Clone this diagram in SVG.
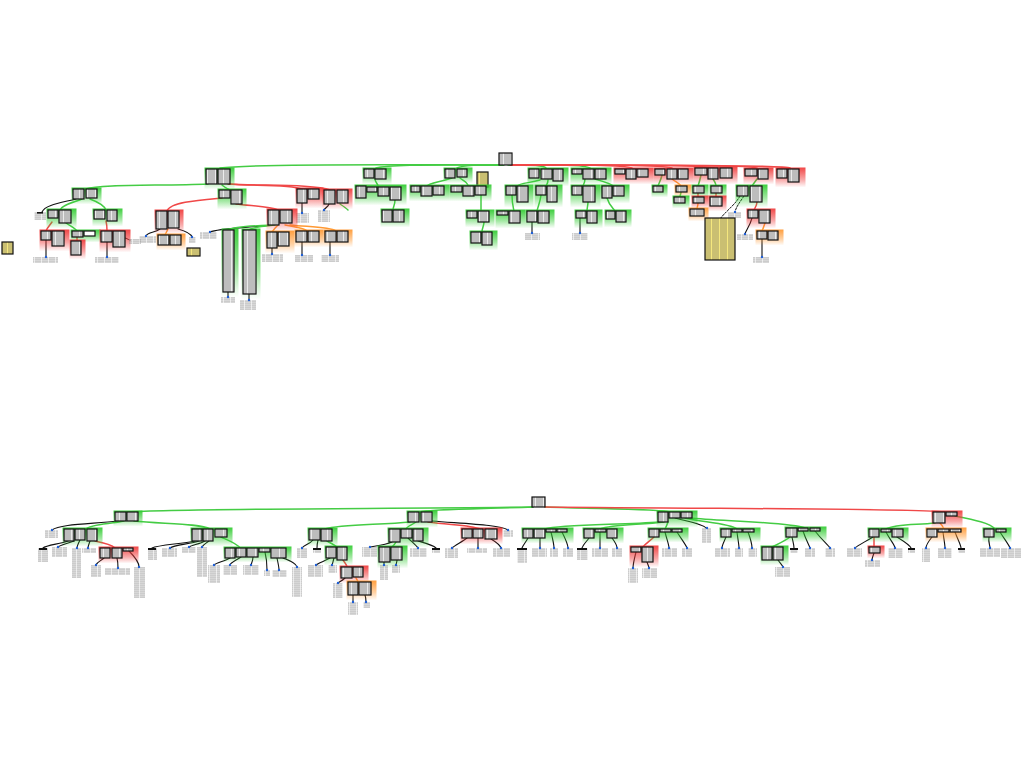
<svg xmlns="http://www.w3.org/2000/svg" width="1024" height="768" viewBox="0 0 1024 768">
<defs>
<pattern id="tx" width="8" height="2" patternUnits="userSpaceOnUse"><rect width="8" height="2" fill="#fff"/><rect y="0.5" width="7.3" height="1" fill="#7c7c7c"/></pattern>
<pattern id="tl" width="7" height="2" patternUnits="userSpaceOnUse"><rect y="0.6" width="6.4" height="0.9" fill="#9a9a9a"/></pattern>
<pattern id="ty" width="8" height="2" patternUnits="userSpaceOnUse"><rect width="8" height="2" fill="#f5e77e"/><rect y="0.6" width="7" height="0.8" fill="#8a8460"/></pattern>
<linearGradient id="gG" x1="0" y1="0" x2="0" y2="1"><stop offset="0" stop-color="#33cc33" stop-opacity="0.95"/><stop offset="0.6" stop-color="#33cc33" stop-opacity="0.45"/><stop offset="1" stop-color="#33cc33" stop-opacity="0"/></linearGradient>
<linearGradient id="gR" x1="0" y1="0" x2="0" y2="1"><stop offset="0" stop-color="#f03c3c" stop-opacity="0.95"/><stop offset="0.6" stop-color="#f03c3c" stop-opacity="0.45"/><stop offset="1" stop-color="#f03c3c" stop-opacity="0"/></linearGradient>
<linearGradient id="gO" x1="0" y1="0" x2="0" y2="1"><stop offset="0" stop-color="#ff9933" stop-opacity="0.95"/><stop offset="0.6" stop-color="#ff9933" stop-opacity="0.45"/><stop offset="1" stop-color="#ff9933" stop-opacity="0"/></linearGradient>
</defs>
<style>
.b{fill:url(#tx);stroke:#111;stroke-width:1.2}
.w{fill:#fff;stroke:#111;stroke-width:1.2}
.y{fill:url(#ty);stroke:#111;stroke-width:1.2}
.l{fill:url(#tl)}
.k{fill:#111}
.d{fill:#1f5fd6}
.G{fill:url(#gG)}
.R{fill:url(#gR)}
.O{fill:url(#gO)}
#connectors path{fill:none;stroke-linecap:round}
.cg{stroke:#44cc44;stroke-width:1.5}
.cr{stroke:#f04848;stroke-width:1.5}
.co{stroke:#ff9933;stroke-width:1.5}
.ck{stroke:#111;stroke-width:1.1}
.cd{stroke:#111;stroke-width:1;stroke-dasharray:2 1.5}
</style>
<rect width="1024" height="768" fill="#fff"/>
<g id="connectors">
<path class="cg" d="M503,165 C420,165 260,163 220,168"/>
<path class="cg" d="M503,165 C440,165 390,164 376,168"/>
<path class="cg" d="M504,165 C480,165 462,165 457,168"/>
<path class="cg" d="M508,165 C530,165 545,165 546,168"/>
<path class="cg" d="M510,165 C560,165 585,165 590,168"/>
<path class="cr" d="M511,165 C580,165 625,165 632,168"/>
<path class="cr" d="M511,165 C600,165 665,165 672,168"/>
<path class="cr" d="M511,165 C620,165 705,165 714,168"/>
<path class="cr" d="M511,165 C640,165 750,165 757,168"/>
<path class="cr" d="M511,165 C660,165 785,165 790,168"/>
<path class="cg" d="M208,184 C160,186 100,184 86,189"/>
<path class="cg" d="M222,185 C224,187 226,188 230,190"/>
<path class="cr" d="M228,184 C250,186 290,184 302,189"/>
<path class="cr" d="M229,184 C260,186 315,184 330,190"/>
<path class="ck" d="M302,203 V213"/>
<path class="ck" d="M329,204 C328,207 325,208 324,210"/>
<path class="cg" d="M340,204 C343,206 346,208 348,210"/>
<path class="cr" d="M222,198 C200,200 170,202 167,211"/>
<path class="cr" d="M236,204 C250,206 270,206 278,210"/>
<path class="ck" d="M160,229 C155,233 148,232 146,236"/>
<path class="co" d="M168,229 C167,231 166,233 165,235"/>
<path class="ck" d="M178,229 C185,231 191,233 192,237"/>
<path class="ck" d="M270,225 C250,228 220,228 210,232"/>
<path class="cg" d="M272,225 C255,226 235,226 228,230"/>
<path class="cg" d="M275,225 C265,226 252,227 249,230"/>
<path class="co" d="M278,225 C276,227 274,229 272,232"/>
<path class="co" d="M285,225 C295,227 305,228 307,231"/>
<path class="co" d="M290,225 C310,227 330,227 336,231"/>
<path class="ck" d="M228,292 V297"/>
<path class="ck" d="M249,294 V300"/>
<path class="ck" d="M272,248 V254"/>
<path class="ck" d="M302,242 V255"/>
<path class="ck" d="M330,242 V255"/>
<path class="ck" d="M76,199 C60,203 45,205 42,212"/>
<path class="cg" d="M82,199 C72,203 62,205 60,210"/>
<path class="cg" d="M90,199 C98,202 104,205 106,210"/>
<path class="cr" d="M52,222 C50,225 47,228 46,231"/>
<path class="cg" d="M66,223 C70,226 75,228 77,231"/>
<path class="cr" d="M77,237 V241"/>
<path class="cr" d="M106,221 C107,225 107,228 107,231"/>
<path class="ck" d="M46,240 V257"/>
<path class="ck" d="M107,242 V257"/>
<path class="ck" d="M125,238 C128,239 129,240 130,240"/>
<path class="cg" d="M375,179 C375,182 378,184 378,186"/>
<path class="cg" d="M395,200 C395,205 393,207 393,210"/>
<path class="cg" d="M452,178 C440,182 428,183 427,186"/>
<path class="cg" d="M460,178 C465,182 468,183 468,186"/>
<path class="cg" d="M481,195 V211"/>
<path class="cg" d="M484,222 C484,226 482,228 482,232"/>
<path class="cg" d="M540,180 C530,183 520,183 517,186"/>
<path class="cg" d="M548,180 C548,183 547,184 546,186"/>
<path class="cg" d="M512,195 C512,203 513,206 514,211"/>
<path class="cg" d="M541,195 C540,203 538,206 537,211"/>
<path class="ck" d="M532,222 V233"/>
<path class="cg" d="M585,179 C585,182 584,184 583,186"/>
<path class="cg" d="M595,179 C605,182 612,184 613,186"/>
<path class="cg" d="M588,202 C588,205 587,208 587,211"/>
<path class="cg" d="M607,198 C609,205 613,208 615,211"/>
<path class="ck" d="M580,218 V233"/>
<path class="cg" d="M662,175 C661,180 659,183 658,186"/>
<path class="co" d="M672,179 C676,182 680,184 681,186"/>
<path class="cg" d="M681,192 C681,194 680,195 680,197"/>
<path class="cg" d="M701,175 C700,180 699,183 698,186"/>
<path class="cg" d="M713,179 C715,182 716,184 716,186"/>
<path class="cr" d="M698,193 V197"/>
<path class="cr" d="M716,193 V197"/>
<path class="co" d="M698,203 C698,206 697,207 697,209"/>
<path class="cg" d="M757,179 C755,182 753,184 752,186"/>
<path class="cd" d="M740,196 C735,205 725,212 720,219"/>
<path class="cd" d="M744,196 C740,202 736,207 735,212"/>
<path class="cr" d="M757,202 C757,205 755,208 754,210"/>
<path class="ck" d="M752,218 C750,226 746,230 745,234"/>
<path class="co" d="M765,223 C764,226 763,229 762,231"/>
<path class="ck" d="M762,239 V257"/>
<path class="cg" d="M533,507 C420,509 180,508 128,512"/>
<path class="cg" d="M533,507 C480,509 430,509 420,512"/>
<path class="cg" d="M545,507 C600,509 660,509 670,512"/>
<path class="cr" d="M545,507 C700,509 900,508 945,512"/>
<path class="ck" d="M118,521 C90,524 60,524 52,530"/>
<path class="cg" d="M124,521 C110,524 90,524 86,529"/>
<path class="cg" d="M134,521 C160,524 200,523 210,529"/>
<path class="ck" d="M68,541 C60,544 46,545 43,548"/>
<path class="ck" d="M74,541 C66,544 60,545 58,547"/>
<path class="ck" d="M80,540 C78,544 77,546 77,548"/>
<path class="ck" d="M90,541 C89,544 88,546 88,548"/>
<path class="cr" d="M95,541 C105,543 112,545 115,548"/>
<path class="ck" d="M104,558 C101,561 97,562 96,565"/>
<path class="ck" d="M117,558 C118,562 118,565 118,568"/>
<path class="ck" d="M129,551 C134,556 139,562 139,567"/>
<path class="ck" d="M195,541 C180,544 158,545 152,548"/>
<path class="ck" d="M199,541 C190,544 174,545 170,548"/>
<path class="ck" d="M205,541 C200,544 192,545 189,547"/>
<path class="ck" d="M209,541 C205,544 203,545 202,547"/>
<path class="cg" d="M221,537 C230,541 238,544 240,548"/>
<path class="ck" d="M230,558 C225,561 216,563 214,565"/>
<path class="ck" d="M241,557 C235,561 230,563 230,565"/>
<path class="ck" d="M253,557 C253,560 252,562 251,565"/>
<path class="ck" d="M265,552 C267,560 267,566 267,570"/>
<path class="ck" d="M277,558 C278,563 279,567 279,570"/>
<path class="ck" d="M283,558 C290,561 296,563 297,567"/>
<path class="cg" d="M410,522 C380,525 340,524 325,529"/>
<path class="cg" d="M416,522 C412,525 407,526 406,529"/>
<path class="cr" d="M428,522 C450,525 472,525 480,529"/>
<path class="ck" d="M432,521 C470,524 500,525 508,530"/>
<path class="ck" d="M313,540 C310,544 304,545 302,548"/>
<path class="ck" d="M318,540 C317,544 317,546 317,548"/>
<path class="cg" d="M327,541 C332,544 335,545 337,547"/>
<path class="ck" d="M330,558 C325,561 318,563 316,565"/>
<path class="ck" d="M334,558 C333,561 333,563 332,565"/>
<path class="cr" d="M343,560 C345,563 347,565 347,567"/>
<path class="ck" d="M345,578 C342,581 339,582 338,583"/>
<path class="co" d="M356,578 C357,580 358,581 358,582"/>
<path class="ck" d="M353,595 V602"/>
<path class="ck" d="M365,595 C366,598 366,600 366,602"/>
<path class="ck" d="M392,542 C385,545 375,546 370,547"/>
<path class="cg" d="M396,542 C395,544 393,546 392,547"/>
<path class="ck" d="M408,538 C412,542 416,545 418,548"/>
<path class="ck" d="M418,541 C425,543 433,545 436,548"/>
<path class="ck" d="M384,562 V565"/>
<path class="ck" d="M397,560 C397,562 396,564 396,565"/>
<path class="ck" d="M467,538 C462,542 455,545 452,548"/>
<path class="ck" d="M478,538 V548"/>
<path class="ck" d="M491,539 C496,542 500,545 501,548"/>
<path class="cg" d="M660,522 C620,525 560,524 545,529"/>
<path class="cg" d="M664,522 C640,525 612,524 600,529"/>
<path class="cg" d="M668,522 C667,525 666,527 665,529"/>
<path class="ck" d="M675,518 C690,522 703,524 706,528"/>
<path class="cg" d="M685,518 C700,522 730,523 737,529"/>
<path class="cg" d="M690,518 C720,521 790,522 805,528"/>
<path class="ck" d="M528,538 C526,542 523,545 522,548"/>
<path class="ck" d="M540,538 V548"/>
<path class="ck" d="M551,532 C553,540 554,545 554,548"/>
<path class="ck" d="M562,532 C566,540 568,545 568,548"/>
<path class="ck" d="M589,538 C586,542 583,545 582,548"/>
<path class="ck" d="M600,532 V548"/>
<path class="ck" d="M612,538 C615,542 617,545 617,548"/>
<path class="cr" d="M654,537 C650,541 645,544 643,547"/>
<path class="ck" d="M665,532 C667,540 669,545 669,548"/>
<path class="ck" d="M677,532 C682,540 686,545 687,548"/>
<path class="ck" d="M636,552 C634,560 633,565 633,568"/>
<path class="ck" d="M647,562 C648,565 649,567 649,568"/>
<path class="ck" d="M726,537 C724,542 722,545 722,548"/>
<path class="ck" d="M737,532 C738,540 739,545 739,548"/>
<path class="ck" d="M748,532 C751,540 752,545 752,548"/>
<path class="cg" d="M790,537 C785,541 778,544 772,547"/>
<path class="ck" d="M778,560 C780,563 782,565 783,567"/>
<path class="ck" d="M792,537 C793,542 794,545 794,548"/>
<path class="ck" d="M803,531 C806,540 809,545 810,548"/>
<path class="ck" d="M815,531 C822,540 828,545 830,548"/>
<path class="cg" d="M935,523 C915,525 895,524 886,529"/>
<path class="co" d="M940,523 C942,525 943,527 944,529"/>
<path class="cg" d="M955,516 C975,520 990,523 995,529"/>
<path class="ck" d="M873,537 C865,542 858,545 855,548"/>
<path class="cr" d="M874,537 V547"/>
<path class="ck" d="M874,553 C873,556 872,558 872,560"/>
<path class="ck" d="M886,532 C890,540 895,545 895,548"/>
<path class="ck" d="M897,537 C905,542 910,545 911,548"/>
<path class="ck" d="M932,537 C928,542 926,545 926,548"/>
<path class="ck" d="M943,532 C944,540 945,545 945,548"/>
<path class="ck" d="M955,532 C958,540 961,545 961,548"/>
<path class="ck" d="M989,537 C988,542 990,545 990,548"/>
<path class="ck" d="M1000,532 C1005,540 1009,545 1010,548"/>
</g>
<!-- TOP TREE -->
<g id="t-root"><rect class="b" x="499" y="153" width="13" height="12"/></g>
<g id="t-g1"><rect class="G" x="204.5" y="167.5" width="30" height="22"/><rect class="b" x="206" y="169" width="11" height="15"/><rect class="b" x="218" y="169" width="12" height="15"/></g>
<g id="t-g1a"><rect class="G" x="71.5" y="187.5" width="30" height="17"/><rect class="b" x="73" y="189" width="11" height="10"/><rect class="b" x="86" y="189" width="11" height="9"/></g>
<g id="t-g1b"><rect class="G" x="217.5" y="188.5" width="29" height="21"/><rect class="b" x="219" y="190" width="11" height="8"/><rect class="b" x="231" y="190" width="11" height="14"/></g>
<g id="t-g1c"><rect class="R" x="295.5" y="187.5" width="28" height="21"/><rect class="b" x="297" y="189" width="10" height="14"/><rect class="b" x="308" y="189" width="11" height="10"/></g>
<g id="t-g1c-l"><rect class="l" x="296" y="213" width="13" height="10"/><circle class="d" cx="302" cy="213" r="1.2"/></g>
<g id="t-g1d"><rect class="R" x="322.5" y="188.5" width="30" height="21"/><rect class="b" x="324" y="190" width="11" height="14"/><rect class="b" x="337" y="190" width="11" height="13"/></g>
<g id="t-g1d-l"><rect class="l" x="318" y="210" width="12" height="12"/><circle class="d" cx="324" cy="210" r="1.2"/></g>
<g id="t-g1bl"><rect class="R" x="154.5" y="209.5" width="29" height="25"/><rect class="b" x="156" y="211" width="11" height="18"/><rect class="b" x="168" y="211" width="11" height="17"/></g>
<g id="t-l1"><rect class="l" x="139" y="236" width="17" height="7"/><circle class="d" cx="146" cy="236" r="1.2"/></g>
<g id="t-o1"><rect class="O" x="156.5" y="233.5" width="29" height="17"/><rect class="b" x="158" y="235" width="11" height="10"/><rect class="b" x="170" y="235" width="11" height="10"/></g>
<g id="t-sn"><rect class="l" x="189" y="237" width="7" height="6"/><circle class="d" cx="192" cy="237" r="1.2"/></g>
<g id="t-y1"><rect class="y" x="187" y="248" width="13" height="8"/></g>
<g id="t-g1br"><rect class="R" x="266.5" y="208.5" width="31" height="23"/><rect class="b" x="268" y="210" width="11" height="15"/><rect class="b" x="280" y="210" width="12" height="13"/></g>
<g id="t-l2"><rect class="l" x="200" y="232" width="17" height="7"/><circle class="d" cx="210" cy="232" r="1.2"/></g>
<g id="t-ta"><rect class="G" x="221.5" y="228.5" width="17" height="69"/><rect class="b" x="223" y="230" width="11" height="62"/></g>
<g id="t-tb"><rect class="G" x="241.5" y="228.5" width="19" height="71"/><rect class="b" x="243" y="230" width="13" height="64"/></g>
<g id="t-ta-l"><rect class="l" x="221" y="297" width="14" height="6"/><circle class="d" cx="228" cy="297" r="1.2"/></g>
<g id="t-tb-l"><rect class="l" x="240" y="300" width="16" height="10"/><circle class="d" cx="249" cy="300" r="1.2"/></g>
<g id="t-oc"><rect class="O" x="265.5" y="230.5" width="29" height="23"/><rect class="b" x="267" y="232" width="10" height="16"/><rect class="b" x="278" y="232" width="11" height="14"/></g>
<g id="t-oc-l"><rect class="l" x="262" y="254" width="21" height="8"/><circle class="d" cx="272" cy="254" r="1.2"/></g>
<g id="t-od"><rect class="O" x="294.5" y="229.5" width="29" height="18"/><rect class="b" x="296" y="231" width="11" height="11"/><rect class="b" x="308" y="231" width="11" height="11"/></g>
<g id="t-od-l"><rect class="l" x="295" y="255" width="18" height="7"/><circle class="d" cx="302" cy="255" r="1.2"/></g>
<g id="t-oe"><rect class="O" x="323.5" y="229.5" width="29" height="18"/><rect class="b" x="325" y="231" width="11" height="11"/><rect class="b" x="337" y="231" width="11" height="11"/></g>
<g id="t-oe-l"><rect class="l" x="321" y="255" width="18" height="7"/><circle class="d" cx="330" cy="255" r="1.2"/></g>
<g id="t-la"><rect class="l" x="34" y="212" width="12" height="8"/><rect class="k" x="37" y="212" width="6" height="1.6"/></g>
<g id="t-ga1"><rect class="G" x="46.5" y="208.5" width="30" height="20"/><rect class="b" x="48" y="210" width="10" height="8"/><rect class="b" x="59" y="210" width="12" height="13"/></g>
<g id="t-ga2"><rect class="G" x="92.5" y="208.5" width="30" height="18"/><rect class="b" x="94" y="210" width="11" height="9"/><rect class="b" x="107" y="210" width="10" height="11"/></g>
<g id="t-rg1"><rect class="R" x="39.5" y="229.5" width="30" height="22"/><rect class="b" x="41" y="231" width="10" height="9"/><rect class="b" x="52" y="231" width="12" height="15"/></g>
<g id="t-gg1"><rect class="G" x="70.5" y="229.5" width="30" height="13"/><rect class="b" x="72" y="231" width="11" height="6"/><rect class="w" x="84" y="231" width="11" height="5"/></g>
<g id="t-rg2"><rect class="R" x="69.5" y="239.5" width="16" height="20"/><rect class="b" x="71" y="241" width="10" height="14"/></g>
<g id="t-rg3"><rect class="R" x="99.5" y="229.5" width="31" height="23"/><rect class="b" x="101" y="231" width="11" height="11"/><rect class="b" x="113" y="231" width="12" height="16"/></g>
<g id="t-lb1"><rect class="l" x="33" y="257" width="25" height="6"/><circle class="d" cx="46" cy="257" r="1.2"/></g>
<g id="t-lb2"><rect class="l" x="95" y="257" width="24" height="6"/><circle class="d" cx="107" cy="257" r="1.2"/></g>
<g id="t-lb3"><rect class="l" x="129" y="239" width="12" height="5"/></g>
<g id="t-yleft"><rect class="y" x="2" y="242" width="11" height="12"/></g>
<g id="t-g2"><rect class="G" x="362.5" y="167.5" width="29" height="17"/><rect class="b" x="364" y="169" width="10" height="9"/><rect class="b" x="375" y="169" width="11" height="10"/></g>
<g id="t-g2a"><rect class="G" x="354.5" y="184.5" width="52" height="21"/><rect class="b" x="356" y="186" width="10" height="12"/><rect class="b" x="367" y="187" width="10" height="5"/><rect class="b" x="378" y="187" width="11" height="9"/><rect class="b" x="390" y="187" width="11" height="13"/></g>
<g id="t-g2b"><rect class="G" x="380.5" y="208.5" width="29" height="19"/><rect class="b" x="382" y="210" width="10" height="12"/><rect class="b" x="393" y="210" width="11" height="12"/></g>
<g id="t-g3"><rect class="G" x="443.5" y="167.5" width="29" height="16"/><rect class="b" x="445" y="169" width="10" height="9"/><rect class="b" x="457" y="169" width="10" height="8"/></g>
<g id="t-y2"><rect class="y" x="477" y="172" width="11" height="15"/></g>
<g id="t-g3a"><rect class="G" x="409.5" y="184.5" width="40" height="17"/><rect class="b" x="411" y="186" width="9" height="6"/><rect class="b" x="421" y="186" width="11" height="10"/><rect class="b" x="433" y="186" width="11" height="9"/></g>
<g id="t-g3b"><rect class="G" x="449.5" y="184.5" width="42" height="17"/><rect class="b" x="451" y="186" width="11" height="6"/><rect class="b" x="463" y="186" width="11" height="10"/><rect class="b" x="475" y="186" width="11" height="9"/></g>
<g id="t-g3c"><rect class="G" x="465.5" y="209.5" width="29" height="18"/><rect class="b" x="467" y="211" width="10" height="7"/><rect class="b" x="478" y="211" width="11" height="11"/></g>
<g id="t-g3d"><rect class="G" x="469.5" y="230.5" width="28" height="20"/><rect class="b" x="471" y="232" width="10" height="11"/><rect class="b" x="482" y="232" width="10" height="13"/></g>
<g id="t-g4"><rect class="G" x="527.5" y="167.5" width="41" height="19"/><rect class="b" x="529" y="169" width="10" height="9"/><rect class="b" x="541" y="169" width="11" height="10"/><rect class="b" x="553" y="169" width="10" height="12"/></g>
<g id="t-g4a"><rect class="G" x="504.5" y="184.5" width="29" height="23"/><rect class="b" x="506" y="186" width="10" height="9"/><rect class="b" x="517" y="186" width="11" height="16"/></g>
<g id="t-g4b"><rect class="G" x="534.5" y="184.5" width="28" height="23"/><rect class="b" x="536" y="186" width="10" height="9"/><rect class="b" x="547" y="186" width="10" height="16"/></g>
<g id="t-g4c"><rect class="G" x="495.5" y="209.5" width="30" height="19"/><rect class="b" x="497" y="211" width="11" height="4"/><rect class="b" x="509" y="211" width="11" height="12"/></g>
<g id="t-g4d"><rect class="G" x="525.5" y="209.5" width="29" height="19"/><rect class="b" x="527" y="211" width="10" height="11"/><rect class="b" x="538" y="211" width="11" height="12"/></g>
<g id="t-g4d-l"><rect class="l" x="525" y="233" width="15" height="7"/><circle class="d" cx="532" cy="233" r="1.2"/></g>
<g id="t-g5"><rect class="G" x="570.5" y="167.5" width="41" height="17"/><rect class="b" x="572" y="169" width="10" height="5"/><rect class="b" x="583" y="169" width="11" height="10"/><rect class="b" x="595" y="169" width="11" height="10"/></g>
<g id="t-g5a"><rect class="G" x="570.5" y="184.5" width="30" height="23"/><rect class="b" x="572" y="186" width="10" height="9"/><rect class="b" x="583" y="186" width="12" height="16"/></g>
<g id="t-g5b"><rect class="G" x="600.5" y="184.5" width="29" height="19"/><rect class="b" x="602" y="186" width="10" height="12"/><rect class="b" x="613" y="186" width="11" height="10"/></g>
<g id="t-g5c"><rect class="G" x="574.5" y="209.5" width="28" height="19"/><rect class="b" x="576" y="211" width="10" height="7"/><rect class="b" x="587" y="211" width="10" height="12"/></g>
<g id="t-g5d"><rect class="G" x="604.5" y="209.5" width="27" height="18"/><rect class="b" x="606" y="211" width="9" height="8"/><rect class="b" x="616" y="211" width="10" height="11"/></g>
<g id="t-g5c-l"><rect class="l" x="572" y="233" width="16" height="7"/><circle class="d" cx="580" cy="233" r="1.2"/></g>
<g id="t-g6"><rect class="R" x="613.5" y="167.5" width="40" height="17"/><rect class="b" x="615" y="169" width="10" height="5"/><rect class="b" x="626" y="169" width="10" height="10"/><rect class="b" x="637" y="169" width="11" height="8"/></g>
<g id="t-g7"><rect class="R" x="653.5" y="167.5" width="40" height="17"/><rect class="b" x="655" y="169" width="10" height="6"/><rect class="b" x="667" y="169" width="10" height="10"/><rect class="b" x="678" y="169" width="10" height="10"/></g>
<g id="t-g7a"><rect class="G" x="651.5" y="184.5" width="16" height="13"/><rect class="b" x="653" y="186" width="10" height="6"/></g>
<g id="t-o7"><rect class="O" x="674.5" y="184.5" width="17" height="13"/><rect class="b" x="676" y="186" width="11" height="6"/></g>
<g id="t-g7b"><rect class="G" x="672.5" y="195.5" width="17" height="13"/><rect class="b" x="674" y="197" width="11" height="6"/></g>
<g id="t-g8"><rect class="R" x="693.5" y="166.5" width="44" height="18"/><rect class="b" x="695" y="168" width="12" height="7"/><rect class="b" x="708" y="168" width="10" height="11"/><rect class="b" x="720" y="168" width="12" height="10"/></g>
<g id="t-g8a"><rect class="G" x="691.5" y="184.5" width="17" height="14"/><rect class="b" x="693" y="186" width="11" height="7"/></g>
<g id="t-g8b"><rect class="G" x="709.5" y="184.5" width="17" height="14"/><rect class="b" x="711" y="186" width="11" height="7"/></g>
<g id="t-r8a"><rect class="R" x="691.5" y="195.5" width="17" height="13"/><rect class="b" x="693" y="197" width="11" height="6"/></g>
<g id="t-r8b"><rect class="R" x="708.5" y="195.5" width="18" height="16"/><rect class="b" x="710" y="197" width="12" height="9"/></g>
<g id="t-o8a"><rect class="O" x="688.5" y="207.5" width="20" height="14"/><rect class="b" x="690" y="209" width="14" height="7"/></g>
<g id="t-g9"><rect class="R" x="743.5" y="167.5" width="30" height="17"/><rect class="b" x="745" y="169" width="12" height="7"/><rect class="b" x="758" y="169" width="10" height="10"/></g>
<g id="t-g10"><rect class="R" x="775.5" y="167.5" width="30" height="20"/><rect class="b" x="777" y="169" width="10" height="9"/><rect class="b" x="788" y="169" width="11" height="13"/></g>
<g id="t-g9a"><rect class="G" x="735.5" y="184.5" width="32" height="23"/><rect class="b" x="737" y="186" width="11" height="10"/><rect class="b" x="750" y="186" width="12" height="16"/></g>
<g id="t-l9"><rect class="l" x="728" y="212" width="13" height="6"/><circle class="d" cx="735" cy="212" r="1.2"/></g>
<g id="t-y9"><rect class="y" x="705" y="218" width="30" height="42"/></g>
<g id="t-r9"><rect class="R" x="746.5" y="208.5" width="29" height="20"/><rect class="b" x="748" y="210" width="10" height="8"/><rect class="b" x="759" y="210" width="11" height="13"/></g>
<g id="t-r9-l"><rect class="l" x="737" y="234" width="16" height="6"/><circle class="d" cx="745" cy="234" r="1.2"/></g>
<g id="t-o9"><rect class="O" x="755.5" y="229.5" width="28" height="16"/><rect class="b" x="757" y="231" width="10" height="8"/><rect class="b" x="768" y="231" width="10" height="9"/></g>
<g id="t-o9-l"><rect class="l" x="753" y="257" width="16" height="6"/><circle class="d" cx="762" cy="257" r="1.2"/></g>
<!-- BOTTOM TREE -->
<g id="b-root"><rect class="b" x="532" y="497" width="13" height="10"/></g>
<g id="b-1"><rect class="G" x="113.5" y="510.5" width="29" height="16"/><rect class="b" x="115" y="512" width="11" height="9"/><rect class="b" x="127" y="512" width="11" height="9"/></g>
<g id="b-1-l"><rect class="l" x="45" y="530" width="13" height="8"/><circle class="d" cx="52" cy="530" r="1.2"/></g>
<g id="b-1a"><rect class="G" x="62.5" y="527.5" width="40" height="19"/><rect class="b" x="64" y="529" width="10" height="12"/><rect class="b" x="75" y="529" width="10" height="11"/><rect class="b" x="87" y="529" width="10" height="12"/></g>
<g id="b-1b"><rect class="G" x="190.5" y="527.5" width="42" height="19"/><rect class="b" x="192" y="529" width="10" height="12"/><rect class="b" x="203" y="529" width="10" height="12"/><rect class="b" x="215" y="529" width="12" height="8"/></g>
<g id="b-1a-l1"><rect class="l" x="38" y="548" width="10" height="14"/><rect class="k" x="39" y="548" width="8" height="2"/></g>
<g id="b-1a-l2"><rect class="l" x="52" y="547" width="15" height="10"/><circle class="d" cx="58" cy="547" r="1.2"/></g>
<g id="b-1a-l3"><rect class="l" x="72" y="548" width="9" height="30"/><circle class="d" cx="77" cy="548" r="1.2"/></g>
<g id="b-1a-l4"><rect class="l" x="82" y="548" width="14" height="5"/><circle class="d" cx="88" cy="548" r="1.2"/></g>
<g id="b-1a-r"><rect class="R" x="98.5" y="546.5" width="40" height="17"/><rect class="b" x="100" y="548" width="10" height="10"/><rect class="b" x="112" y="548" width="10" height="10"/><rect class="b" x="123" y="548" width="10" height="3"/></g>
<g id="b-1a-r-l1"><rect class="l" x="91" y="565" width="10" height="12"/><circle class="d" cx="96" cy="565" r="1.2"/></g>
<g id="b-1a-r-l2"><rect class="l" x="105" y="568" width="25" height="7"/><circle class="d" cx="118" cy="568" r="1.2"/></g>
<g id="b-1a-r-l3"><rect class="l" x="134" y="567" width="11" height="31"/><circle class="d" cx="139" cy="567" r="1.2"/></g>
<g id="b-1b-l1"><rect class="l" x="148" y="548" width="9" height="12"/><rect class="k" x="148" y="548" width="8" height="2"/></g>
<g id="b-1b-l2"><rect class="l" x="162" y="548" width="15" height="9"/><circle class="d" cx="170" cy="548" r="1.2"/></g>
<g id="b-1b-l3"><rect class="l" x="182" y="547" width="14" height="6"/><circle class="d" cx="189" cy="547" r="1.2"/></g>
<g id="b-1b-l4"><rect class="l" x="197" y="547" width="10" height="30"/><circle class="d" cx="202" cy="547" r="1.2"/></g>
<g id="b-1b-g"><rect class="G" x="223.5" y="546.5" width="68" height="16"/><rect class="b" x="225" y="548" width="10" height="10"/><rect class="b" x="236" y="548" width="10" height="9"/><rect class="b" x="247" y="548" width="11" height="9"/><rect class="b" x="259" y="548" width="11" height="4"/><rect class="b" x="271" y="548" width="15" height="10"/></g>
<g id="b-1b-g-l1"><rect class="l" x="208" y="565" width="12" height="18"/><circle class="d" cx="214" cy="565" r="1.2"/></g>
<g id="b-1b-g-l2"><rect class="l" x="223" y="565" width="14" height="10"/><circle class="d" cx="230" cy="565" r="1.2"/></g>
<g id="b-1b-g-l3"><rect class="l" x="243" y="565" width="16" height="10"/><circle class="d" cx="251" cy="565" r="1.2"/></g>
<g id="b-1b-g-l4"><rect class="l" x="264" y="570" width="6" height="6"/><circle class="d" cx="267" cy="570" r="1.2"/></g>
<g id="b-1b-g-l5"><rect class="l" x="272" y="570" width="15" height="7"/><circle class="d" cx="279" cy="570" r="1.2"/></g>
<g id="b-1b-g-l6"><rect class="l" x="292" y="567" width="10" height="30"/><circle class="d" cx="297" cy="567" r="1.2"/></g>
<g id="b-2"><rect class="G" x="406.5" y="510.5" width="31" height="17"/><rect class="b" x="408" y="512" width="11" height="10"/><rect class="b" x="421" y="512" width="11" height="10"/></g>
<g id="b-2a"><rect class="G" x="307.5" y="527.5" width="30" height="19"/><rect class="b" x="309" y="529" width="11" height="11"/><rect class="b" x="321" y="529" width="11" height="12"/></g>
<g id="b-2b"><rect class="G" x="387.5" y="527.5" width="41" height="20"/><rect class="b" x="389" y="529" width="11" height="13"/><rect class="b" x="401" y="529" width="11" height="9"/><rect class="b" x="413" y="529" width="10" height="12"/></g>
<g id="b-2c"><rect class="R" x="460.5" y="527.5" width="42" height="17"/><rect class="b" x="462" y="529" width="10" height="9"/><rect class="b" x="473" y="529" width="10" height="9"/><rect class="b" x="485" y="529" width="12" height="10"/></g>
<g id="b-2-l"><rect class="l" x="503" y="530" width="10" height="7"/><circle class="d" cx="508" cy="530" r="1.2"/></g>
<g id="b-2a-l1"><rect class="l" x="297" y="548" width="10" height="10"/><circle class="d" cx="302" cy="548" r="1.2"/></g>
<g id="b-2a-l2"><rect class="l" x="313" y="548" width="8" height="5"/><rect class="k" x="313" y="548" width="8" height="2"/></g>
<g id="b-2a-g"><rect class="G" x="324.5" y="545.5" width="28" height="20"/><rect class="b" x="326" y="547" width="10" height="11"/><rect class="b" x="337" y="547" width="10" height="13"/></g>
<g id="b-2a-g-l1"><rect class="l" x="308" y="565" width="15" height="12"/><circle class="d" cx="316" cy="565" r="1.2"/></g>
<g id="b-2a-g-l2"><rect class="l" x="328" y="565" width="9" height="8"/><circle class="d" cx="332" cy="565" r="1.2"/></g>
<g id="b-2a-r"><rect class="R" x="339.5" y="565.5" width="29" height="18"/><rect class="b" x="341" y="567" width="11" height="11"/><rect class="b" x="353" y="567" width="10" height="10"/></g>
<g id="b-2a-r-l"><rect class="l" x="333" y="583" width="10" height="15"/><circle class="d" cx="338" cy="583" r="1.2"/></g>
<g id="b-2a-o"><rect class="O" x="346.5" y="580.5" width="30" height="20"/><rect class="b" x="348" y="582" width="10" height="13"/><rect class="b" x="359" y="582" width="12" height="13"/></g>
<g id="b-2a-o-l1"><rect class="l" x="348" y="602" width="10" height="13"/><circle class="d" cx="353" cy="602" r="1.2"/></g>
<g id="b-2a-o-l2"><rect class="l" x="363" y="602" width="7" height="6"/><circle class="d" cx="366" cy="602" r="1.2"/></g>
<g id="b-2b-l1"><rect class="l" x="362" y="547" width="15" height="10"/><circle class="d" cx="370" cy="547" r="1.2"/></g>
<g id="b-2b-g"><rect class="G" x="377.5" y="545.5" width="30" height="23"/><rect class="b" x="379" y="547" width="11" height="15"/><rect class="b" x="391" y="547" width="11" height="13"/></g>
<g id="b-2b-l2"><rect class="l" x="410" y="548" width="17" height="9"/><circle class="d" cx="418" cy="548" r="1.2"/></g>
<g id="b-2b-l3"><rect class="l" x="432" y="548" width="8" height="5"/><rect class="k" x="432" y="548" width="8" height="2"/></g>
<g id="b-2b-g-l1"><rect class="l" x="380" y="565" width="8" height="15"/><circle class="d" cx="384" cy="565" r="1.2"/></g>
<g id="b-2b-g-l2"><rect class="l" x="392" y="565" width="8" height="8"/><circle class="d" cx="396" cy="565" r="1.2"/></g>
<g id="b-2c-l1"><rect class="l" x="445" y="548" width="13" height="10"/><circle class="d" cx="452" cy="548" r="1.2"/></g>
<g id="b-2c-l2"><rect class="l" x="467" y="548" width="20" height="5"/><circle class="d" cx="478" cy="548" r="1.2"/></g>
<g id="b-2c-l3"><rect class="l" x="493" y="548" width="17" height="9"/><circle class="d" cx="501" cy="548" r="1.2"/></g>
<g id="b-3"><rect class="G" x="656.5" y="510.5" width="41" height="17"/><rect class="b" x="658" y="512" width="10" height="10"/><rect class="b" x="669" y="512" width="11" height="6"/><rect class="b" x="681" y="512" width="11" height="6"/></g>
<g id="b-3a"><rect class="G" x="521.5" y="527.5" width="52" height="16"/><rect class="b" x="523" y="529" width="10" height="9"/><rect class="b" x="534" y="529" width="11" height="9"/><rect class="b" x="546" y="529" width="10" height="3"/><rect class="b" x="557" y="529" width="10" height="3"/></g>
<g id="b-3b"><rect class="G" x="582.5" y="527.5" width="41" height="16"/><rect class="b" x="584" y="529" width="10" height="9"/><rect class="b" x="595" y="529" width="11" height="3"/><rect class="b" x="607" y="529" width="10" height="9"/></g>
<g id="b-3c"><rect class="G" x="647.5" y="527.5" width="41" height="15"/><rect class="b" x="649" y="529" width="10" height="8"/><rect class="b" x="660" y="529" width="11" height="3"/><rect class="b" x="672" y="529" width="10" height="3"/></g>
<g id="b-3-l"><rect class="l" x="702" y="528" width="9" height="15"/><circle class="d" cx="707" cy="528" r="1.2"/></g>
<g id="b-3d"><rect class="G" x="719.5" y="527.5" width="41" height="15"/><rect class="b" x="721" y="529" width="10" height="8"/><rect class="b" x="732" y="529" width="10" height="3"/><rect class="b" x="743" y="529" width="11" height="3"/></g>
<g id="b-3e"><rect class="G" x="784.5" y="526.5" width="42" height="16"/><rect class="b" x="786" y="528" width="11" height="9"/><rect class="b" x="798" y="528" width="10" height="3"/><rect class="b" x="810" y="528" width="10" height="3"/></g>
<g id="b-3e-g"><rect class="G" x="760.5" y="545.5" width="28" height="20"/><rect class="b" x="762" y="547" width="10" height="13"/><rect class="b" x="773" y="547" width="10" height="13"/></g>
<g id="b-3e-g-l"><rect class="l" x="775" y="567" width="15" height="10"/><circle class="d" cx="783" cy="567" r="1.2"/></g>
<g id="b-3a-l1"><rect class="l" x="517" y="548" width="10" height="15"/><rect class="k" x="517" y="548" width="10" height="2"/></g>
<g id="b-3a-l2"><rect class="l" x="532" y="548" width="15" height="9"/><circle class="d" cx="540" cy="548" r="1.2"/></g>
<g id="b-3a-l3"><rect class="l" x="550" y="548" width="8" height="9"/><circle class="d" cx="554" cy="548" r="1.2"/></g>
<g id="b-3a-l4"><rect class="l" x="563" y="548" width="10" height="9"/><circle class="d" cx="568" cy="548" r="1.2"/></g>
<g id="b-3b-l1"><rect class="l" x="577" y="548" width="11" height="12"/><rect class="k" x="577" y="548" width="10" height="2"/></g>
<g id="b-3b-l2"><rect class="l" x="592" y="548" width="16" height="9"/><circle class="d" cx="600" cy="548" r="1.2"/></g>
<g id="b-3b-l3"><rect class="l" x="612" y="548" width="10" height="9"/><circle class="d" cx="617" cy="548" r="1.2"/></g>
<g id="b-3c-r"><rect class="R" x="629.5" y="545.5" width="29" height="22"/><rect class="b" x="631" y="547" width="10" height="5"/><rect class="b" x="642" y="547" width="11" height="15"/></g>
<g id="b-3c-l1"><rect class="l" x="662" y="548" width="15" height="9"/><circle class="d" cx="669" cy="548" r="1.2"/></g>
<g id="b-3c-l2"><rect class="l" x="682" y="548" width="10" height="9"/><circle class="d" cx="687" cy="548" r="1.2"/></g>
<g id="b-3c-r-l1"><rect class="l" x="628" y="568" width="10" height="15"/><circle class="d" cx="633" cy="568" r="1.2"/></g>
<g id="b-3c-r-l2"><rect class="l" x="642" y="568" width="15" height="10"/><circle class="d" cx="649" cy="568" r="1.2"/></g>
<g id="b-3d-l1"><rect class="l" x="715" y="548" width="15" height="9"/><circle class="d" cx="722" cy="548" r="1.2"/></g>
<g id="b-3d-l2"><rect class="l" x="735" y="548" width="8" height="9"/><circle class="d" cx="739" cy="548" r="1.2"/></g>
<g id="b-3d-l3"><rect class="l" x="748" y="548" width="9" height="9"/><circle class="d" cx="752" cy="548" r="1.2"/></g>
<g id="b-3e-l1"><rect class="l" x="790" y="548" width="8" height="5"/><rect class="k" x="790" y="548" width="8" height="2"/></g>
<g id="b-3e-l2"><rect class="l" x="805" y="548" width="10" height="9"/><circle class="d" cx="810" cy="548" r="1.2"/></g>
<g id="b-3e-l3"><rect class="l" x="825" y="548" width="10" height="9"/><circle class="d" cx="830" cy="548" r="1.2"/></g>
<g id="b-4"><rect class="R" x="931.5" y="510.5" width="31" height="18"/><rect class="b" x="933" y="512" width="12" height="11"/><rect class="b" x="946" y="512" width="11" height="4"/></g>
<g id="b-4a"><rect class="G" x="867.5" y="527.5" width="41" height="15"/><rect class="b" x="869" y="529" width="10" height="8"/><rect class="b" x="881" y="529" width="10" height="3"/><rect class="b" x="892" y="529" width="11" height="8"/></g>
<g id="b-4b"><rect class="O" x="925.5" y="527.5" width="41" height="15"/><rect class="b" x="927" y="529" width="10" height="8"/><rect class="b" x="938" y="529" width="11" height="3"/><rect class="b" x="950" y="529" width="11" height="3"/></g>
<g id="b-4c"><rect class="G" x="982.5" y="527.5" width="29" height="15"/><rect class="b" x="984" y="529" width="10" height="8"/><rect class="b" x="996" y="529" width="10" height="3"/></g>
<g id="b-4a-l1"><rect class="l" x="847" y="548" width="15" height="9"/><circle class="d" cx="855" cy="548" r="1.2"/></g>
<g id="b-4a-r"><rect class="R" x="867.5" y="545.5" width="17" height="13"/><rect class="b" x="869" y="547" width="11" height="6"/></g>
<g id="b-4a-r-l"><rect class="l" x="865" y="560" width="15" height="7"/><circle class="d" cx="872" cy="560" r="1.2"/></g>
<g id="b-4a-l2"><rect class="l" x="888" y="548" width="15" height="10"/><circle class="d" cx="895" cy="548" r="1.2"/></g>
<g id="b-4a-l3"><rect class="l" x="908" y="548" width="7" height="5"/><rect class="k" x="908" y="548" width="7" height="2"/></g>
<g id="b-4b-l1"><rect class="l" x="922" y="548" width="8" height="14"/><circle class="d" cx="926" cy="548" r="1.2"/></g>
<g id="b-4b-l2"><rect class="l" x="938" y="548" width="14" height="10"/><circle class="d" cx="945" cy="548" r="1.2"/></g>
<g id="b-4b-l3"><rect class="l" x="958" y="548" width="7" height="5"/><rect class="k" x="958" y="548" width="7" height="2"/></g>
<g id="b-4c-l1"><rect class="l" x="980" y="548" width="20" height="9"/><circle class="d" cx="990" cy="548" r="1.2"/></g>
<g id="b-4c-l2"><rect class="l" x="1001" y="548" width="20" height="10"/><circle class="d" cx="1010" cy="548" r="1.2"/></g>
</svg>
